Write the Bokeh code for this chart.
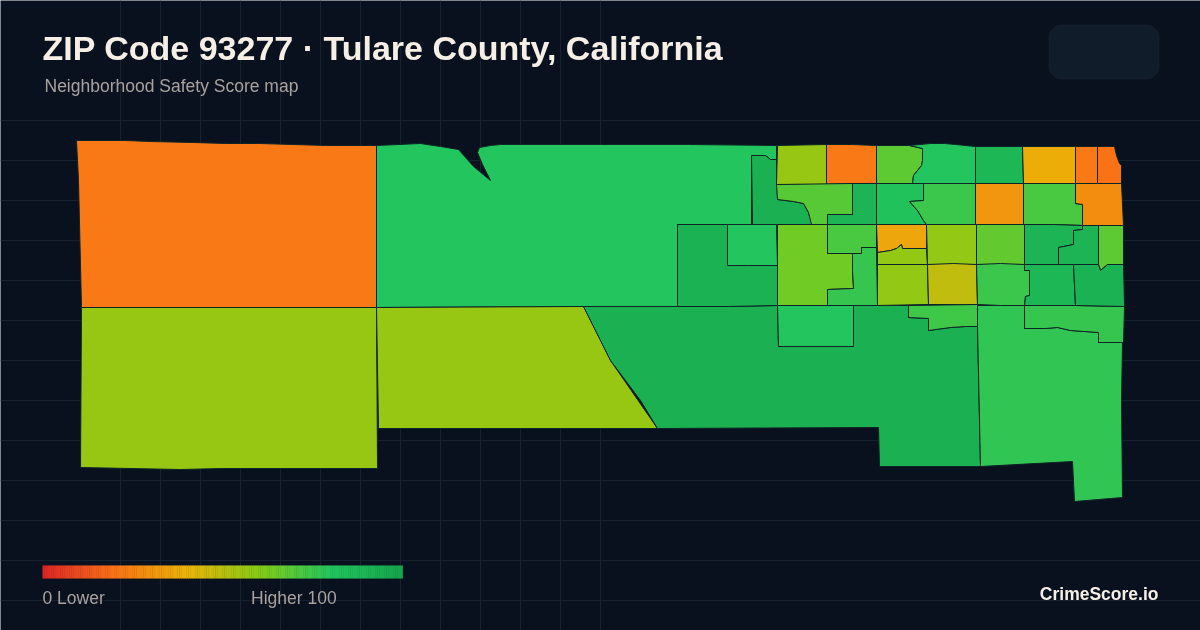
from bokeh.plotting import figure
from bokeh.embed import file_html
from bokeh.resources import INLINE
from bokeh.models import BoxAnnotation, SingleIntervalTicker
from bokeh.core.properties import value
import numpy as np

TITLE = "ZIP Code 93277 · Tulare County, California"
SUBTITLE = "Neighborhood Safety Score map"
SCORE = 70
GRADE = "B"
BRAND = "CrimeScore.io"

stop_scores = [0, 20, 40, 60, 80, 100]
stop_colors = ["#dc2626", "#f97316", "#eab308", "#84cc16", "#22c55e", "#16a34a"]

# block-group outlines, with their scores
west_orange = [(76,140),(125,140),(150,141),(193,142),(225,143),(259,143),(326,145),(376,145),(376,307),(81,307),(78,180)]
north_green = [(376,145),(420,143),(440,146),(458,149),(473,166),(490,180),(482,164),(477,152),(479,147),(490,145),(500,144),(600,144),(688,144),(776,145),(776,159),(770,159),(765,155),(751,155),(751,224),(677,224),(677,306),(583,306),(376,307)]
sw_lime = [(81,307),(376,307),(377,468),(222,468),(180,469),(80,467)]
mid_lime = [(376,307),(583,306),(610,360),(657,428),(378,428)]
south_dark = [(583,306),(677,306),(728,306),(777,305),(778,346),(853,346),(853,305),(908,305),(908,317),(928,318),(928,330),(950,327),(965,326),(977,326),(980,466),(879,466),(878,427),(657,428),(640,400),(610,360)]
se_large = [(977,305),(1024,305),(1024,328),(1045,328),(1057,327),(1070,330),(1098,332),(1098,342),(1122,342),(1121,400),(1122,497),(1074,501),(1072,461),(980,466),(977,326)]
se_strip = [(1024,305),(1075,305),(1124,306),(1123,342),(1098,342),(1098,332),(1070,330),(1057,327),(1045,328),(1024,328)]
c_dark = [(751,155),(765,155),(770,159),(776,159),(777,199),(793,201),(803,203),(808,212),(811,222),(811,224),(752,224)]
c_lime1 = [(777,145),(826,144),(826,184),(776,184)]
c_orange1 = [(826,144),(851,144),(876,145),(876,183),(852,183),(826,184)]
c_lime2 = [(776,184),(852,183),(852,214),(827,214),(827,224),(811,224),(808,212),(803,203),(793,201),(777,199)]
c_dark2 = [(852,183),(876,183),(876,224),(827,224),(827,214),(852,214)]
c_lime3 = [(876,145),(909,145),(922,148),(922,160),(921,165),(913,175),(912,183),(876,183)]
c_green1 = [(909,145),(930,143),(944,143),(955,144),(975,146),(975,183),(912,183),(913,175),(921,165),(922,160),(922,148)]
c_green2 = [(975,146),(1022,146),(1023,183),(975,183)]
c_yellow1 = [(1022,146),(1075,146),(1075,183),(1023,183)]
c_orange2 = [(1075,146),(1097,146),(1097,183),(1075,183)]
c_orange3 = [(1097,146),(1114,146),(1116,155),(1119,163),(1121,165),(1121,183),(1097,183)]
c_green3 = [(876,183),(923,183),(923,200),(909,201),(917,210),(923,220),(926,224),(876,224)]
c_green4 = [(923,183),(975,183),(975,224),(926,224),(923,220),(917,210),(909,201),(923,200)]
c_orange4 = [(975,183),(1023,183),(1023,224),(975,224)]
c_green5 = [(1023,183),(1075,183),(1075,203),(1082,204),(1082,225),(1053,224),(1023,224)]
c_orange5 = [(1075,183),(1121,183),(1123,225),(1082,225),(1082,204),(1075,203)]
c_amber = [(876,224),(926,224),(926,248),(902,248),(901,244),(896,248),(890,250),(877,252)]
c_lime4 = [(877,252),(890,250),(896,248),(901,244),(902,248),(926,248),(927,264),(877,264)]
c_lime5 = [(926,224),(976,224),(976,264),(927,264)]
c_lime6 = [(976,224),(1024,224),(1024,264),(976,264)]
c_dark3 = [(1024,224),(1053,224),(1082,225),(1082,229),(1073,230),(1073,244),(1058,247),(1058,264),(1024,264)]
c_dark4 = [(1082,225),(1098,225),(1098,264),(1058,264),(1058,247),(1073,244),(1073,230),(1082,229)]
c_lime7 = [(1098,225),(1123,225),(1123,264),(1107,264),(1100,270),(1098,264)]
c_lime8 = [(877,264),(927,264),(928,304),(877,305)]
c_gold = [(927,264),(953,263),(976,264),(977,304),(928,304)]
c_green6 = [(976,264),(1000,263),(1024,264),(1024,270),(1029,270),(1029,295),(1025,296),(1024,305),(1000,305),(977,304)]
c_dark5 = [(1024,264),(1073,264),(1075,305),(1024,305),(1025,296),(1029,295),(1029,270),(1024,270)]
c_dark6 = [(1073,264),(1098,264),(1100,270),(1107,264),(1123,264),(1124,306),(1075,305)]
c_dark7 = [(677,224),(727,224),(727,265),(747,265),(777,265),(777,305),(728,306),(677,306)]
c_green7 = [(727,224),(776,224),(777,265),(747,265),(727,265)]
c_lime9 = [(777,224),(827,224),(827,253),(852,253),(852,270),(853,288),(827,289),(827,305),(777,305)]
c_green8 = [(827,224),(876,224),(876,247),(861,247),(861,253),(827,253)]
c_green9 = [(861,247),(876,247),(877,305),(827,305),(827,289),(853,288),(852,270),(852,253),(861,253)]
c_green10 = [(777,305),(853,305),(853,346),(778,346)]
c_green11 = [(908,305),(977,304),(977,326),(965,326),(950,327),(928,330),(928,318),(908,317)]

shapes = [
    (west_orange,22),(north_green,80),(sw_lime,56),(mid_lime,56),(south_dark,92),
    (se_large,77),(se_strip,76),(c_dark,92),(c_lime1,56),(c_orange1,22),(c_lime2,69),
    (c_dark2,90),(c_lime3,68),(c_green1,80),(c_green2,88),(c_yellow1,38),(c_orange2,22),
    (c_orange3,20),(c_green3,82),(c_green4,75),(c_orange4,31),(c_green5,72),(c_orange5,28),
    (c_amber,36),(c_lime4,57),(c_lime5,57),(c_lime6,67),(c_dark3,90),(c_dark4,90),
    (c_lime7,68),(c_lime8,57),(c_gold,48),(c_green6,75),(c_dark5,88),(c_dark6,91),
    (c_dark7,91),(c_green7,80),(c_lime9,64),(c_green8,72),(c_green9,76),(c_green10,80),(c_green11,74),
]

def score_color(s):
    rgb = np.array([[int(c[i:i+2], 16) for i in (1,3,5)] for c in stop_colors], float)
    return "#%02x%02x%02x" % tuple(int(round(np.interp(s, stop_scores, rgb[:,k]))) for k in range(3))

W, H = 1200, 630
p = figure(width=W, height=H, x_range=(0, W), y_range=(H, 0), output_backend="svg",
           toolbar_location=None, min_border=0, outline_line_color=None,
           background_fill_color="#0a111e", border_fill_color="#0a111e",
           styles={"position": "fixed", "left": "0", "top": "0"})
p.xaxis.visible = False
p.yaxis.visible = False
p.xgrid.ticker = SingleIntervalTicker(interval=40)
p.ygrid.ticker = SingleIntervalTicker(interval=40)
p.xgrid.grid_line_color = "#16222f"
p.ygrid.grid_line_color = "#16222f"
p.xgrid.bounds = (96, H)
p.ygrid.bounds = (96, H)

p.patches([[q[0] for q in s] for s, _ in shapes], [[q[1] for q in s] for s, _ in shapes],
          fill_color=[score_color(v) for _, v in shapes], line_color="#0d2426", line_width=1)

# legend bar
scale = np.arange(0, 100, 0.5)
lx = 42 + scale * 3.6
p.quad(left=lx, right=lx + 2.2, top=565, bottom=578, fill_color=[score_color(s) for s in scale], line_color=None)

def label(x, y, t, size, color, bold=False, align="left"):
    p.text([x], [y], text=[t], text_font=value("Liberation Sans"), text_font_size=f"{size}px",
           text_font_style="bold" if bold else "normal", text_color=color,
           text_align=align, text_baseline="middle")

label(42, 47, TITLE, 34, "#f5efe6", True)
label(44, 85, SUBTITLE, 17.5, "#a8a29e")
label(42, 597, "0  Lower", 17.5, "#a8a29e")
label(341, 597, "Higher  100", 17.5, "#a8a29e", align="right")
label(1158, 593, BRAND, 17.5, "#f5efe6", True, "right")

p.add_layout(BoxAnnotation(left=1048.5, right=1158.5, top=24.5, bottom=78.5, border_radius=13,
                           fill_color="#111c2b", fill_alpha=1, line_color="#243040", line_width=1))
label(1103, 51, f"{SCORE}  {GRADE}", 32, score_color(SCORE), True, "center")

open("out.html", "w").write(file_html(p, INLINE))
